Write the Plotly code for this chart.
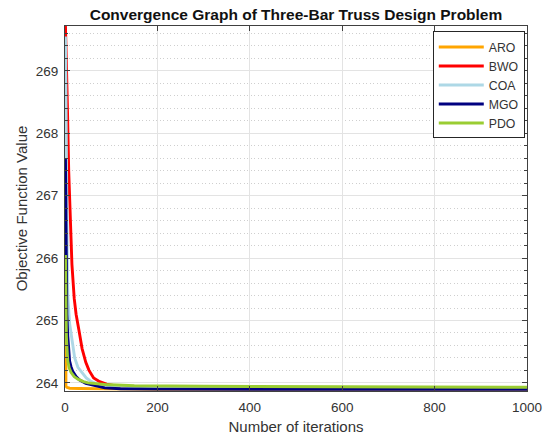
import plotly.graph_objects as go

# ---- data ----
aro_iter = [1, 2, 4, 10, 31, 60, 150, 200, 1000]
aro_val = [267.8, 263.95, 263.93, 263.915, 263.91, 263.905, 263.9, 263.8958, 263.8958]

bwo_iter = [1, 3, 5, 8, 10, 12, 15, 20, 24, 30, 37, 45, 52, 62, 75, 90, 110, 150, 250, 1000]
bwo_val = [269.72, 269.2, 268.5, 267.4, 266.9, 266.4, 265.9, 265.35, 265.1, 264.85, 264.55,
           264.33, 264.2, 264.08, 264.02, 263.98, 263.95, 263.935, 263.925, 263.92]

coa_iter = [1, 2, 3, 4, 5, 6, 8, 10, 13, 17, 21, 28, 35, 46, 55, 70, 100, 200, 1000]
coa_val = [269.55, 268.3, 267.4, 266.6, 265.9, 265.4, 265.1, 264.95, 264.8, 264.6, 264.4,
           264.25, 264.18, 264.08, 264.03, 263.98, 263.95, 263.93, 263.915]

mgo_iter = [1, 2, 3, 4, 6, 8, 10, 13, 17, 24, 31, 45, 60, 86, 120, 200, 460, 1000]
mgo_val = [267.6, 266.5, 265.6, 265.1, 264.75, 264.5, 264.35, 264.26, 264.18, 264.1, 264.05,
           263.99, 263.96, 263.92, 263.905, 263.9, 263.898, 263.898]

pdo_iter = [1, 2, 3, 4, 6, 9, 13, 20, 28, 40, 50, 86, 150, 300, 750, 1000]
pdo_val = [266.05, 265.0, 264.75, 264.6, 264.35, 264.24, 264.17, 264.1, 264.06, 264.02, 264.0,
           263.975, 263.955, 263.945, 263.935, 263.93]

series = [
    ("ARO", aro_iter, aro_val, "#FFA500"),
    ("BWO", bwo_iter, bwo_val, "#FF0000"),
    ("COA", coa_iter, coa_val, "#ADD8E6"),
    ("MGO", mgo_iter, mgo_val, "#000080"),
    ("PDO", pdo_iter, pdo_val, "#9ACD32"),
]

x_ticks = [0, 200, 400, 600, 800, 1000]
y_ticks = [264, 265, 266, 267, 268, 269]

FONT = "Liberation Sans, Arial, Helvetica, sans-serif"
TXT = "#333333"

fig = go.Figure()
for name, xs, ys, col in series:
    fig.add_trace(go.Scatter(x=xs, y=ys, mode="lines", name=name,
                             line=dict(color=col, width=2.9)))

fig.update_layout(
    width=547, height=435,
    margin=dict(l=65, r=20, t=26, b=44),
    paper_bgcolor="white", plot_bgcolor="white",
    font=dict(family=FONT, color=TXT, size=13.5),
    title=dict(text="<b>Convergence Graph of Three-Bar Truss Design Problem</b>",
               x=0.5, xref="paper", xanchor="center",
               y=1 - 15 / 435, yref="container", yanchor="middle",
               font=dict(size=15.5, color="#111111", family=FONT)),
    showlegend=True,
    legend=dict(x=0.9952, xanchor="right", y=0.985, yanchor="top",
                bgcolor="white", bordercolor="#262626", borderwidth=1,
                font=dict(size=12.3, color=TXT, family=FONT),
                itemwidth=45, tracegroupgap=0),
)

fig.update_xaxes(
    range=[0, 1000], tickvals=x_ticks, ticktext=[str(v) for v in x_ticks],
    showline=True, linecolor="#404040", linewidth=1, mirror="ticks",
    ticks="inside", ticklen=5, tickcolor="#404040",
    showgrid=True, gridcolor="#e3e3e3", gridwidth=1, zeroline=False,
    automargin=False, ticklabelstandoff=4,
    title=dict(text="Number of iterations", font=dict(size=15, color=TXT), standoff=16),
    tickfont=dict(size=13.5, color=TXT),
)
fig.update_yaxes(
    range=[263.87, 269.72], tickvals=y_ticks, ticktext=[str(v) for v in y_ticks],
    showline=True, linecolor="#404040", linewidth=1, mirror="ticks",
    ticks="inside", ticklen=5, tickcolor="#404040",
    showgrid=True, gridcolor="#e3e3e3", gridwidth=1, zeroline=False,
    minor=dict(dtick=0.2, ticks="inside", ticklen=3, tickcolor="#404040",
               showgrid=True, gridcolor="#cfcfcf", griddash="1px,2.5px", gridwidth=1),
    automargin=False, ticklabelstandoff=3,
    title=dict(text="Objective Function Value", font=dict(size=15, color=TXT), standoff=4),
    tickfont=dict(size=13.5, color=TXT),
)

fig.write_html("out.html")
